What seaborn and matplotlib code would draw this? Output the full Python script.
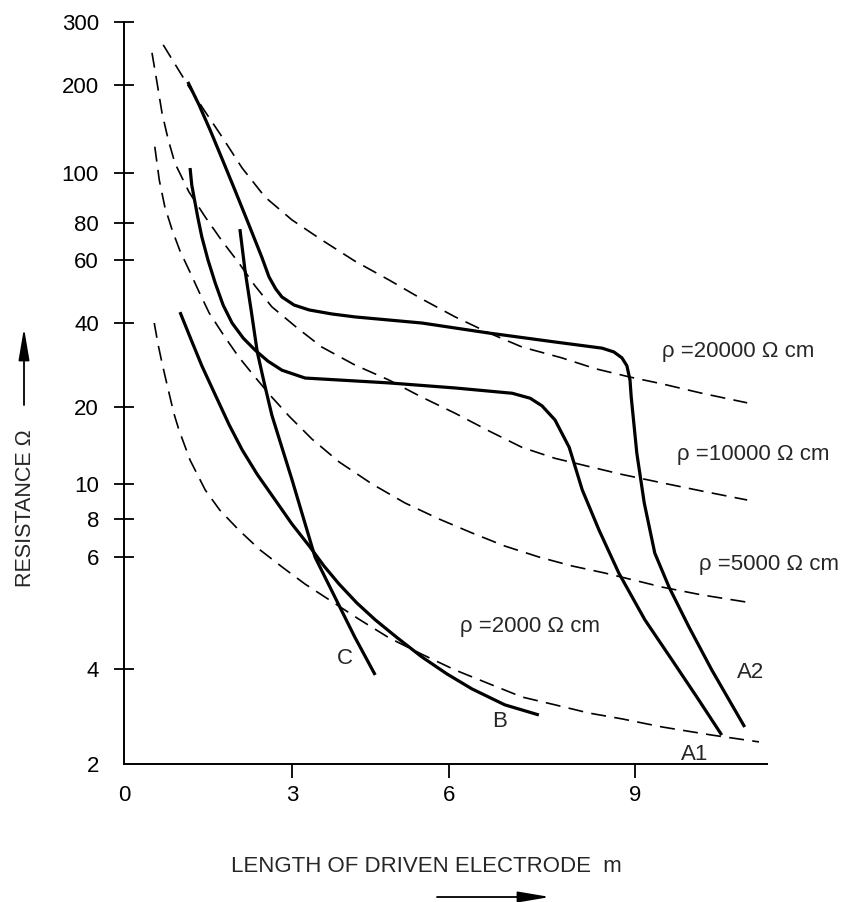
import numpy as np
import matplotlib
matplotlib.use("Agg")
import matplotlib.pyplot as plt
import seaborn as sns

# ---- curves: length of driven electrode (m) vs resistance (ohm) ----
a2_length = [1.14, 1.34, 1.54, 1.75, 1.98, 2.21, 2.46, 2.59, 2.71, 2.82, 3.04, 3.33,
             3.76, 4.20, 5.48, 6.65, 7.71, 8.47, 8.66, 8.79, 8.87, 8.92, 8.94, 9.03,
             9.15, 9.32, 9.55, 9.87, 10.24, 10.77]
a2_resist = [204, 171, 140, 112, 92.7, 80.4, 61.4, 53.8, 49.8, 47.3, 44.9, 43.5,
             42.4, 41.6, 40.0, 36.8, 34.2, 32.5, 31.5, 30.0, 28.1, 25.0, 21.7, 13.2,
             8.86, 6.18, 5.38, 4.66, 3.97, 2.62]

a1_length = [1.18, 1.21, 1.25, 1.32, 1.39, 1.50, 1.63, 1.77, 1.93, 2.13, 2.34, 2.57,
             2.82, 3.25, 4.85, 6.10, 7.02, 7.31, 7.50, 7.71, 7.94, 8.15, 8.42, 8.74,
             9.16, 9.60, 10.03, 10.40]
a1_resist = [104, 94.8, 89.8, 81.8, 71.8, 60.0, 51.7, 44.9, 40.0, 35.3, 32.0, 29.2,
             27.1, 25.4, 24.4, 23.4, 22.4, 21.5, 20.2, 17.8, 13.9, 9.63, 7.36, 5.66,
             4.78, 4.13, 3.19, 2.47]

b_length = [1.00, 1.20, 1.39, 1.63, 1.88, 2.11, 2.38, 2.70, 3.00, 3.33, 3.61, 3.90,
            4.24, 4.59, 5.01, 5.48, 5.96, 6.37, 6.90, 7.45]
b_resist = [42.9, 34.8, 28.1, 22.1, 17.0, 13.6, 10.9, 9.03, 7.70, 6.52, 5.81, 5.44,
            5.08, 4.78, 4.48, 4.18, 3.86, 3.46, 3.08, 2.86]

c_length = [2.07, 2.16, 2.27, 2.38, 2.50, 2.64, 2.82, 3.00, 3.19, 3.44, 3.82, 4.20, 4.59]
c_resist = [76.3, 56.3, 43.5, 31.5, 24.6, 18.6, 13.9, 10.4, 8.31, 6.00, 5.19, 4.49, 3.83]

# ---- theoretical curves for uniform soil resistivity ----
rho20000_length = [0.70, 1.16, 1.45, 1.75, 2.11, 2.52, 3.00, 3.57, 4.20, 4.85, 5.48,
                   6.10, 6.65, 7.18, 7.82, 8.37, 8.92, 9.44, 10.08, 10.81]
rho20000_resist = [259, 197, 162, 133, 104, 89.8, 81.1, 70.1, 59.6, 52.8, 46.7,
                   41.6, 36.8, 32.8, 30.0, 27.4, 25.6, 24.2, 22.4, 20.7]

rho10000_length = [0.50, 0.59, 0.68, 0.79, 0.91, 1.16, 1.45, 1.75, 2.05, 2.34, 2.64,
                   3.10, 3.57, 4.20, 4.85, 5.48, 6.10, 6.65, 7.18, 7.71, 8.26, 8.79,
                   9.44, 10.08, 10.81]
rho10000_resist = [246, 203, 160, 130, 108, 91.9, 82.2, 69.6, 58.9, 50.8, 44.4,
                   38.4, 32.8, 28.3, 25.0, 21.7, 18.9, 16.1, 13.9, 12.6, 11.7, 10.9,
                   10.1, 9.56, 9.03]

rho5000_length = [0.55, 0.63, 0.73, 0.86, 1.00, 1.16, 1.34, 1.52, 1.79, 2.05, 2.34,
                  2.64, 2.95, 3.38, 3.90, 4.53, 5.16, 5.81, 6.37, 6.90, 7.45, 7.98,
                  8.52, 9.11, 9.44, 10.08, 10.89]
rho5000_resist = [123, 96.9, 85.9, 75.8, 64.4, 56.3, 48.9, 42.7, 35.9, 30.2, 25.6,
                  21.7, 18.4, 15.0, 12.2, 10.0, 8.86, 8.00, 7.20, 6.52, 6.00, 5.81,
                  5.66, 5.48, 5.38, 5.23, 5.08]

rho2000_length = [0.54, 0.61, 0.68, 0.77, 0.89, 0.98, 1.18, 1.45, 1.71, 2.05, 2.43,
                  2.82, 3.25, 3.71, 4.28, 4.85, 5.48, 6.10, 6.65, 7.18, 7.71, 8.26,
                  8.79, 9.44, 10.24, 11.00]
rho2000_resist = [40.0, 33.4, 28.7, 24.0, 18.9, 16.3, 12.4, 9.63, 8.47, 7.36, 6.33,
                  5.79, 5.44, 5.14, 4.79, 4.48, 4.22, 3.97, 3.59, 3.26, 3.08, 2.90,
                  2.78, 2.62, 2.47, 2.35]

rho_labels = ["ρ =20000 Ω cm", "ρ =10000 Ω cm", "ρ =5000 Ω cm", "ρ =2000 Ω cm"]
curve_labels = ["A2", "A1", "B", "C"]

x_ticks = [0, 3, 6, 9]
y_ticks = [2, 4, 6, 8, 10, 20, 40, 60, 80, 100, 200, 300]

# Graduations of the hand-ruled axes (distance of each tick from the origin)
X_GRAD = [0, 168, 325, 511]
Y_GRAD = [0, 95, 207, 245, 280, 357, 441, 504, 541, 591, 679, 742]


def _piecewise(v, xp, fp):
    v = np.asarray(v, dtype=float)
    out = np.interp(v, xp, fp)
    lo_slope = (fp[1] - fp[0]) / (xp[1] - xp[0])
    hi_slope = (fp[-1] - fp[-2]) / (xp[-1] - xp[-2])
    out = np.where(v < xp[0], fp[0] + (v - xp[0]) * lo_slope, out)
    out = np.where(v > xp[-1], fp[-1] + (v - xp[-1]) * hi_slope, out)
    return out


_xk = np.array(x_ticks, float)
_xg = np.array(X_GRAD, float)
_yk = np.log10(np.array(y_ticks, float))
_yg = np.array(Y_GRAD, float)


def x_fwd(v):
    return _piecewise(v, _xk, _xg)


def x_inv(u):
    return _piecewise(u, _xg, _xk)


def y_fwd(v):
    v = np.clip(np.asarray(v, dtype=float), 1e-12, None)
    return _piecewise(np.log10(v), _yk, _yg)


def y_inv(u):
    return 10.0 ** _piecewise(u, _yg, _yk)


sns.set_style("white")
plt.rcParams["font.family"] = ["Liberation Sans", "DejaVu Sans"]

W, H = 844, 902
fig = plt.figure(figsize=(W / 100, H / 100), dpi=100)
left_px, bottom_px, width_px, height_px = 124, 764, 643, 742
ax = fig.add_axes([left_px / W, (H - bottom_px) / H, width_px / W, height_px / H])

ax.set_xscale("function", functions=(x_fwd, x_inv))
ax.set_yscale("function", functions=(y_fwd, y_inv))

dash = (0, (9, 5))
for xs, ys in [(rho20000_length, rho20000_resist), (rho10000_length, rho10000_resist),
               (rho5000_length, rho5000_resist), (rho2000_length, rho2000_resist)]:
    sns.lineplot(x=xs, y=ys, sort=False, estimator=None, color="black",
                 linewidth=1.2, linestyle=dash, ax=ax, clip_on=False)

for xs, ys in [(a2_length, a2_resist), (a1_length, a1_resist),
               (b_length, b_resist), (c_length, c_resist)]:
    sns.lineplot(x=xs, y=ys, sort=False, estimator=None, color="black",
                 linewidth=2.3, ax=ax, clip_on=False,
                 solid_joinstyle="round", solid_capstyle="butt")

ax.set_xlim(0, 11.13)
ax.set_ylim(2, 300)
ax.set_xticks(x_ticks)
ax.set_xticklabels([str(t) for t in x_ticks])
ax.set_yticks(y_ticks)
ax.set_yticklabels([str(t) for t in y_ticks])
ax.minorticks_off()

for side in ["top", "right"]:
    ax.spines[side].set_visible(False)
for side in ["left", "bottom"]:
    ax.spines[side].set_color("black")
    ax.spines[side].set_linewidth(1.4)

ax.tick_params(axis="y", direction="inout", length=14, width=1.3, pad=11,
               labelsize=16, colors="black", left=True)
ax.tick_params(axis="x", direction="out", length=10, width=1.3, pad=5,
               labelsize=16, colors="black", bottom=True)

# resistivity labels
ax.text(9.44, 31.5, rho_labels[0], ha="left", va="center", fontsize=16)
ax.text(9.68, 13.0, rho_labels[1], ha="left", va="center", fontsize=16)
ax.text(10.03, 5.83, rho_labels[2], ha="left", va="center", fontsize=16)
ax.text(6.18, 4.66, rho_labels[3], ha="left", va="center", fontsize=16)

# curve names
ax.text(10.87, 3.89, curve_labels[0], ha="center", va="center", fontsize=16)
ax.text(9.97, 2.14, curve_labels[1], ha="center", va="center", fontsize=16)
ax.text(6.82, 2.72, curve_labels[2], ha="center", va="center", fontsize=16)
ax.text(4.01, 4.16, curve_labels[3], ha="center", va="center", fontsize=16)

ax.set_xlabel("LENGTH OF DRIVEN ELECTRODE  m", fontsize=16, va="center")
ax.xaxis.set_label_coords((426 - left_px) / width_px, (bottom_px - 866) / height_px)
ax.set_ylabel("RESISTANCE Ω", fontsize=15.5, va="center")
ax.yaxis.set_label_coords((25 - left_px) / width_px, (bottom_px - 508) / height_px)

arrow_style = dict(arrowstyle="-|>,head_length=1.3,head_width=0.22",
                   mutation_scale=15, lw=1.3, color="black", shrinkA=0, shrinkB=0)
ax.annotate("", xy=(550 / W, 1 - 897 / H), xytext=(437 / W, 1 - 897 / H),
            xycoords="figure fraction", textcoords="figure fraction",
            arrowprops=arrow_style, annotation_clip=False)
ax.annotate("", xy=(24 / W, 1 - 328 / H), xytext=(24 / W, 1 - 405 / H),
            xycoords="figure fraction", textcoords="figure fraction",
            arrowprops=arrow_style, annotation_clip=False)

# no tick marks at the origin corner
ax.yaxis.get_major_ticks()[0].tick1line.set_visible(False)
ax.xaxis.get_major_ticks()[0].tick1line.set_visible(False)

fig.savefig("out.png", dpi=100, facecolor="white")
